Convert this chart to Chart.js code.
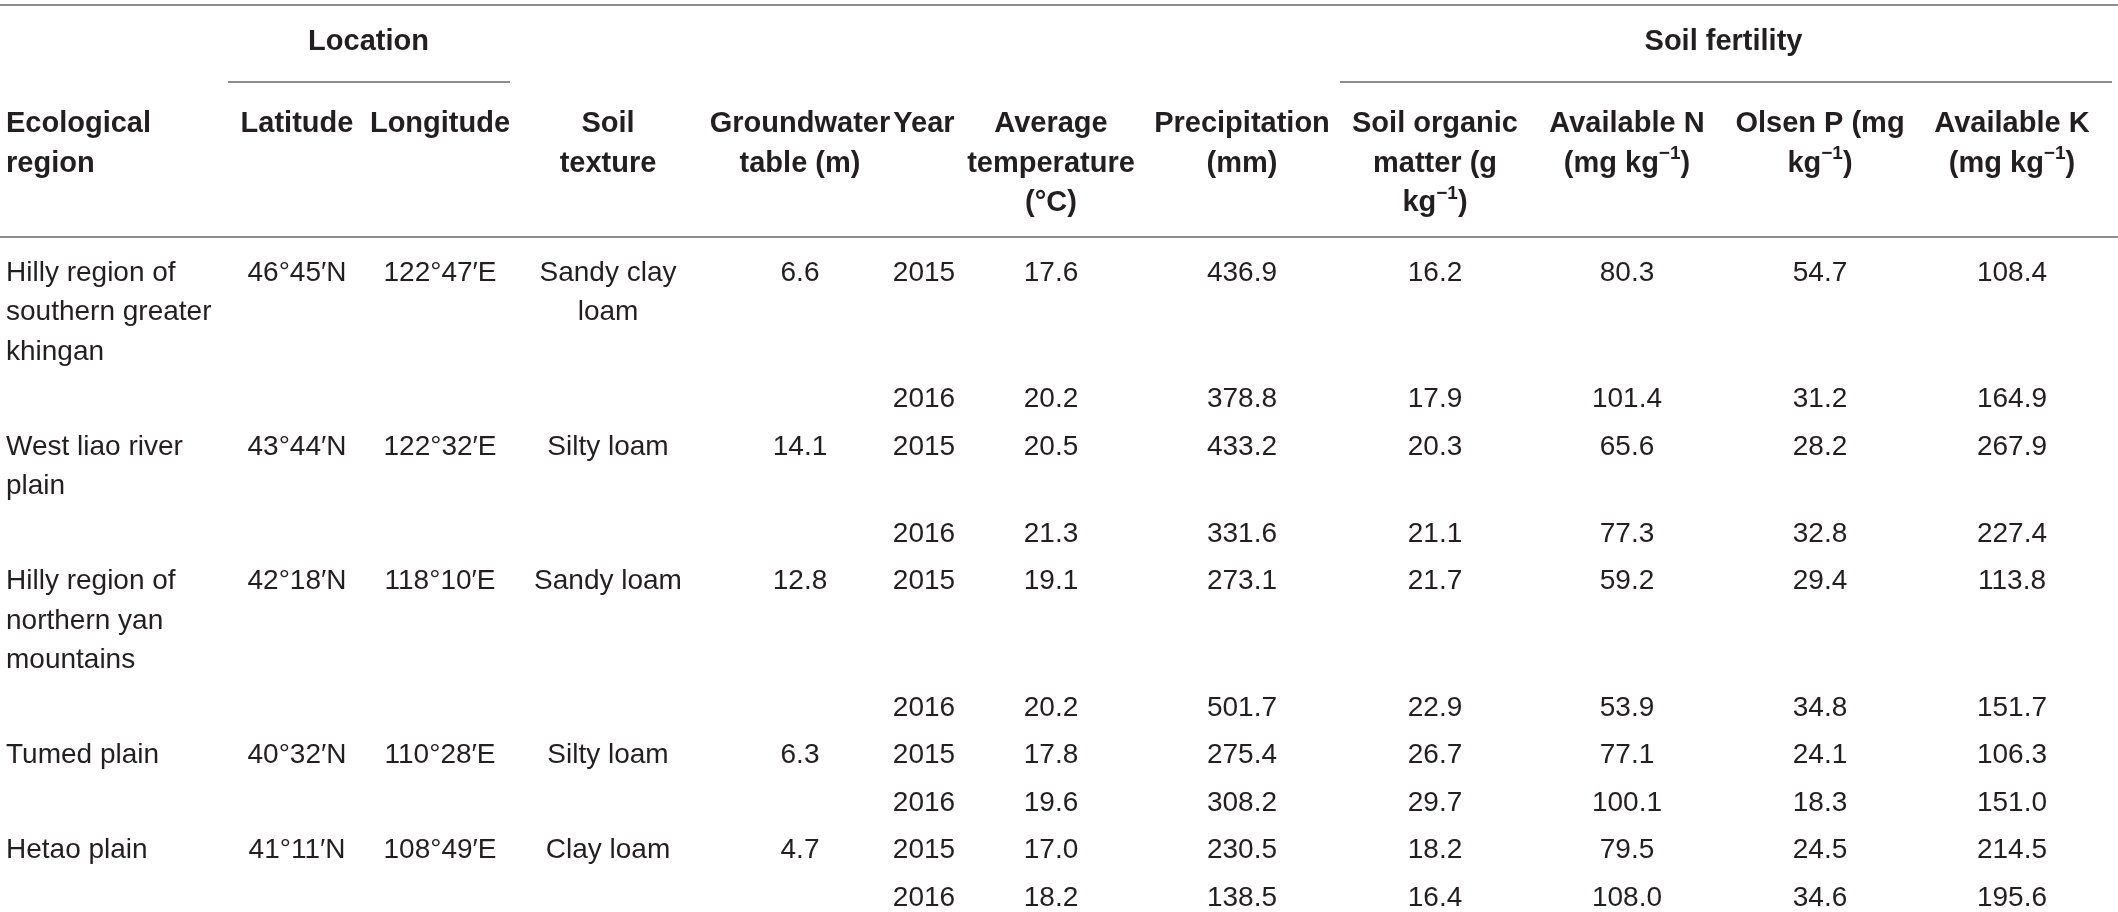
<!DOCTYPE html>
<html>
<head>
<meta charset="utf-8">
<script src="https://cdn.jsdelivr.net/npm/chart.js@4.4.1/dist/chart.umd.min.js"></script>
<style>
  html, body { margin: 0; padding: 0; background: #ffffff; }
  #wrap { width: 2118px; height: 912px; position: relative; }
</style>
</head>
<body>
<div id="wrap"><canvas id="c"></canvas></div>
<script>
// ---------------- DATA ----------------
const regions = [
  "Hilly region of\nsouthern greater\nkhingan",
  "West liao river\nplain",
  "Hilly region of\nnorthern yan\nmountains",
  "Tumed plain",
  "Hetao plain"
];
const latitudes  = ["46°45′N", "43°44′N", "42°18′N", "40°32′N", "41°11′N"];
const longitudes = ["122°47′E", "122°32′E", "118°10′E", "110°28′E", "108°49′E"];
const soilTextures = ["Sandy clay\nloam", "Silty loam", "Sandy loam", "Silty loam", "Clay loam"];
const groundwater = [6.6, 14.1, 12.8, 6.3, 4.7];
const years = [2015, 2016];
const avgTemperature = [17.6, 20.2, 20.5, 21.3, 19.1, 20.2, 17.8, 19.6, 17.0, 18.2];
const precipitation  = [436.9, 378.8, 433.2, 331.6, 273.1, 501.7, 275.4, 308.2, 230.5, 138.5];
const soilOrganicMatter = [16.2, 17.9, 20.3, 21.1, 21.7, 22.9, 26.7, 29.7, 18.2, 16.4];
const availableN = [80.3, 101.4, 65.6, 77.3, 59.2, 53.9, 77.1, 100.1, 79.5, 108.0];
const olsenP     = [54.7, 31.2, 28.2, 32.8, 29.4, 34.8, 24.1, 18.3, 24.5, 34.6];
const availableK = [108.4, 164.9, 267.9, 227.4, 113.8, 151.7, 106.3, 151.0, 214.5, 195.6];

const groupHeaders = ["Location", "Soil fertility"];
const columnHeaders = [
  "Ecological\nregion",
  "Latitude",
  "Longitude",
  "Soil\ntexture",
  "Groundwater\ntable (m)",
  "Year",
  "Average\ntemperature\n(°C)",
  "Precipitation\n(mm)",
  "Soil organic\nmatter (g\nkg^{−1})",
  "Available N\n(mg kg^{−1})",
  "Olsen P (mg\nkg^{−1})",
  "Available K\n(mg kg^{−1})"
];

// ---------------- LAYOUT (not data) ----------------
const W = 2118, H = 912;
const colX = [6, 297, 440, 608, 800, 924, 1051, 1242, 1435, 1627, 1820, 2012];
const colAlign = ["left","center","center","center","center","center","center","center","center","center","center","center"];
const lineH = 39.5;
const rowPad = 8;
const headerTop = 124;
const groupY = 42;
const firstRowY = 273;
const FONT = '"Liberation Sans", Arial, Helvetica, sans-serif';
const SIZE_BODY = 28;
const SIZE_HEAD = 29;
const TEXT_COLOR = "#231f20";
const RULE_COLOR = "#8e8e8e";

// ---------------- BUILD CELLS ----------------
const headerCells = columnHeaders.map((t, c) => ({ x: colX[c], y: headerTop, text: t, align: colAlign[c], bold: true }));
groupHeaders.forEach((t, g) => {
  const cx = g === 0 ? (colX[1] + colX[2]) / 2 : (colX[8] + colX[11]) / 2;
  headerCells.push({ x: cx, y: groupY, text: t, align: "center", bold: true });
});

const bodyCells = [];
let y = firstRowY;
for (let r = 0; r < regions.length; r++) {
  for (let yi = 0; yi < years.length; yi++) {
    const k = r * years.length + yi;
    const row = [];
    if (yi === 0) {
      row.push([0, regions[r]], [1, latitudes[r]], [2, longitudes[r]], [3, soilTextures[r]], [4, groundwater[r].toFixed(1)]);
    }
    row.push([5, String(years[yi])], [6, avgTemperature[k].toFixed(1)], [7, precipitation[k].toFixed(1)],
             [8, soilOrganicMatter[k].toFixed(1)], [9, availableN[k].toFixed(1)], [10, olsenP[k].toFixed(1)],
             [11, availableK[k].toFixed(1)]);
    let lines = 1;
    row.forEach(([c, t]) => {
      lines = Math.max(lines, t.split("\n").length);
      bodyCells.push({ x: colX[c], y: y, text: t, align: colAlign[c], bold: false });
    });
    y += lines * lineH + rowPad;
  }
}

// horizontal rules
const rules = [
  { y: 5, x0: 0, x1: W },
  { y: 82, x0: 228, x1: 510 },
  { y: 82, x0: 1340, x1: 2112 },
  { y: 237, x0: 0, x1: W }
];

// ---------------- RENDER ----------------
function drawRich(ctx, str, x, yPix, align, bold) {
  const parts = [];
  const re = /\^\{([^}]*)\}/g;
  let last = 0, m;
  while ((m = re.exec(str)) !== null) {
    if (m.index > last) parts.push({ t: str.slice(last, m.index), sup: false });
    parts.push({ t: m[1], sup: true });
    last = re.lastIndex;
  }
  if (last < str.length) parts.push({ t: str.slice(last), sup: false });
  const size = bold ? SIZE_HEAD : SIZE_BODY;
  const w = bold ? "bold " : "";
  const mainFont = w + size + "px " + FONT;
  const supFont = w + Math.round(size * 0.64) + "px " + FONT;
  let total = 0;
  parts.forEach(p => { ctx.font = p.sup ? supFont : mainFont; p.w = ctx.measureText(p.t).width; total += p.w; });
  let sx = align === "left" ? x : align === "right" ? x - total : x - total / 2;
  ctx.textAlign = "left";
  ctx.textBaseline = "middle";
  parts.forEach(p => {
    ctx.font = p.sup ? supFont : mainFont;
    ctx.fillText(p.t, sx, p.sup ? yPix - size * 0.32 : yPix);
    sx += p.w;
  });
}

const tableText = {
  id: "tableText",
  afterDatasetsDraw(chart) {
    const ctx = chart.ctx;
    const ys = chart.scales.y;
    ctx.save();
    ctx.fillStyle = TEXT_COLOR;
    chart.data.datasets.forEach((ds, di) => {
      if (ds.type !== "scatter") return;
      const meta = chart.getDatasetMeta(di);
      meta.data.forEach((el, i) => {
        const cell = ds.data[i];
        cell.text.split("\n").forEach((ln, li) => {
          const yp = ys.getPixelForValue(cell.y + li * lineH);
          drawRich(ctx, ln, el.x, yp, cell.align, cell.bold);
        });
      });
    });
    ctx.restore();
  }
};

const ruleDatasets = rules.map(rl => ({
  type: "line",
  data: [{ x: rl.x0, y: rl.y }, { x: rl.x1, y: rl.y }],
  borderColor: RULE_COLOR,
  borderWidth: 2,
  pointRadius: 0,
  fill: false
}));

new Chart(document.getElementById("c"), {
  type: "scatter",
  data: {
    datasets: [
      { type: "scatter", label: "headers", data: headerCells, pointRadius: 0, pointHoverRadius: 0 },
      { type: "scatter", label: "cells", data: bodyCells, pointRadius: 0, pointHoverRadius: 0 },
      ...ruleDatasets
    ]
  },
  options: {
    responsive: true,
    maintainAspectRatio: false,
    animation: false,
    devicePixelRatio: 1,
    layout: { padding: 0 },
    events: [],
    plugins: { legend: { display: false }, tooltip: { enabled: false } },
    scales: {
      x: { type: "linear", min: 0, max: W, display: false },
      y: { type: "linear", min: 0, max: H, reverse: true, display: false }
    },
    clip: false
  },
  plugins: [tableText]
});
</script>
</body>
</html>
